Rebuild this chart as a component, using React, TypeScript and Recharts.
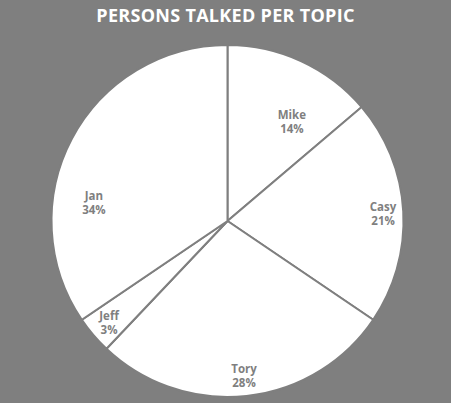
import { PieChart, Pie, Cell } from 'recharts'

const names = ['Mike', 'Casy', 'Tory', 'Jeff', 'Jan']
const persons = [4, 6, 8, 1, 10]

const data = names.map((name, i) => ({ name, value: persons[i] }))

// where Excel's "best fit" put each label, as a fraction of the radius from the centre
const labelSpots = [
  [0.366, -0.563],
  [0.884, -0.04],
  [0.094, 0.881],
  [-0.673, 0.58],
  [-0.759, -0.102],
]

const BG = '#7f7f7f'

const renderLabel = (props: any) => {
  const { cx, cy, outerRadius, index, percent, name } = props
  const [fx, fy] = labelSpots[index]
  const x = cx + fx * outerRadius
  const y = cy + fy * outerRadius
  return (
    <text
      x={x}
      y={y}
      fill="#7f7f7f"
      textAnchor="middle"
      fontFamily="Open Sans"
      fontWeight={700}
      fontSize={11.5}
    >
      <tspan x={x} dy={-3}>{name}</tspan>
      <tspan x={x} dy={14}>{Math.round(percent * 100)}%</tspan>
    </text>
  )
}

export default function App() {
  return (
    <div style={{ position: 'fixed', top: 0, left: 0, width: 451, height: 403, background: BG }}>
      <div
        style={{
          position: 'absolute',
          top: 3,
          left: 0,
          width: 451,
          textAlign: 'center',
          color: '#ffffff',
          fontFamily: 'Open Sans',
          fontWeight: 700,
          fontSize: 18,
          lineHeight: '24px',
          letterSpacing: 0.3,
        }}
      >
        PERSONS TALKED PER TOPIC
      </div>
      <PieChart width={451} height={403} margin={{ top: 0, right: 0, bottom: 0, left: 0 }}>
        <Pie
          data={data}
          dataKey="value"
          nameKey="name"
          cx={227.5}
          cy={221}
          outerRadius={176}
          startAngle={90}
          endAngle={-270}
          stroke={BG}
          strokeWidth={2}
          label={renderLabel}
          labelLine={false}
          isAnimationActive={false}
        >
          {data.map((d) => (
            <Cell key={d.name} fill="#ffffff" />
          ))}
        </Pie>
      </PieChart>
    </div>
  )
}
